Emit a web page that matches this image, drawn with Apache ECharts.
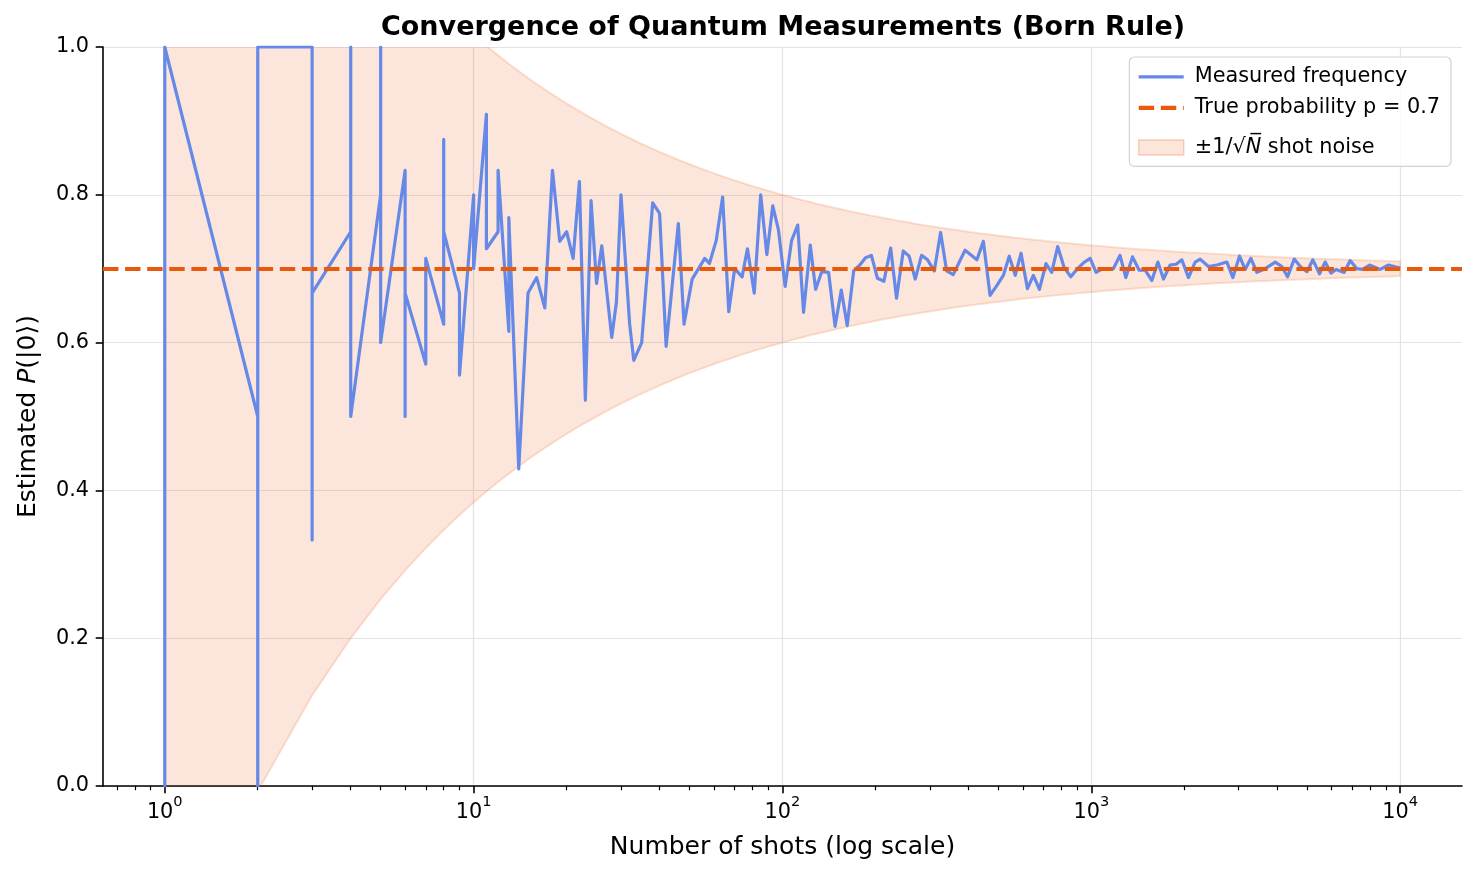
<!DOCTYPE html>
<html><head><meta charset="utf-8">
<script src="https://cdn.jsdelivr.net/npm/echarts@6/dist/echarts.min.js"></script>
<style>html,body{margin:0;padding:0;background:#fff}#c{width:1476px;height:873px}</style>
</head><body><div id="c"></div><script>
// ---- data ----
const shots = [
  1,1,1, 2,2,2, 3,3,3, 4,4,4, 5,5,5, 6,6,6, 7,7, 8,8,8, 9,9, 10,10, 11,11, 12,12, 13,13,
  14,15,16,17,18,19,20,21,22,23,24,25,26,28,29,30,
  32,33,35,38,40,42,46,48,51,56,58,61,64,67,70,74,77,81,85,89,93,97,102,107,112,
  117,123,128,134,141,148,155,162,170,178,186,194,203,213,224,234,246,257,269,282,295,310,325,340,357,
  390,426,447,470,494,519,542,567,592,621,649,679,713,744,778,816,858,897,943,991,
  1036,1088,1178,1238,1293,1359,1428,1494,1570,1642,1712,1799,1882,1963,2063,2168,2250,2394,2549,2746,
  2872,3017,3148,3285,3435,3655,3937,4137,4316,4537,4746,4988,5215,5480,5715,5965,6203,6586,6886,7238,7570,7955,8610,9167,10000
];
const freq = [
  1,0,1, 0.5,0,1, 1,0.333,0.667, 0.75,1,0.5, 0.8,1,0.6, 0.833,0.5,0.667, 0.571,0.714, 0.625,0.875,0.75, 0.667,0.556, 0.8,0.7, 0.909,0.727, 0.75,0.833, 0.615,0.769,
  0.429,0.667,0.688,0.647,0.833,0.737,0.75,0.714,0.818,0.522,0.792,0.68,0.731,0.607,0.655,0.8,
  0.625,0.576,0.6,0.789,0.775,0.595,0.761,0.625,0.686,0.714,0.707,0.738,0.797,0.642,0.7,0.689,0.727,0.667,0.8,0.719,0.785,0.753,0.676,0.738,0.759,
  0.641,0.732,0.672,0.696,0.695,0.622,0.671,0.623,0.697,0.705,0.715,0.718,0.687,0.683,0.728,0.66,0.724,0.717,0.686,0.718,0.712,0.697,0.749,0.697,0.692,
  0.725,0.712,0.737,0.664,0.677,0.691,0.717,0.691,0.721,0.673,0.691,0.672,0.707,0.695,0.730,0.702,0.689,0.699,0.708,0.714,
  0.695,0.700,0.700,0.718,0.688,0.716,0.698,0.698,0.684,0.709,0.686,0.705,0.706,0.712,0.688,0.709,0.713,0.703,0.705,0.709,
  0.688,0.717,0.699,0.714,0.695,0.700,0.709,0.703,0.689,0.713,0.703,0.696,0.712,0.693,0.709,0.694,0.699,0.695,0.711,0.700,0.699,0.705,0.699,0.705,0.701
];
const P_TRUE = 0.7;
const xMajorTicks = [1, 10, 100, 1000, 10000];
const yTickInterval = 0.2;
const seriesNames = ['Measured frequency', 'True probability p = 0.7', '±1/√N shot noise'];

// ---- styling ----
const FONT = 'DejaVu Sans';
const BLUE = '#6689E8';
const ORANGE = '#E8590C';
const FILL = 'rgba(232,89,12,0.15)';
const EDGE = 'rgba(232,89,12,0.17)';
const GRIDC = '#e3e3e3';
const X_MIN = 0.631, X_MAX = 15849;

// ---- derived ----
const measured = shots.map((n, i) => [n, freq[i]]);
const bandShots = Array.from(new Set(shots)).sort((a, b) => a - b);
const bandUpper = bandShots.map(n => [n, P_TRUE + 1 / Math.sqrt(n)]);
const bandLower = bandShots.map(n => [n, P_TRUE - 1 / Math.sqrt(n)]);
const minorTicks = [];
for (let k = -1; k <= 4; k++) for (let m = 2; m <= 9; m++) {
  const v = m * Math.pow(10, k);
  if (v >= X_MIN && v <= X_MAX) minorTicks.push(v);
}

const chart = echarts.init(document.getElementById('c'), null, {renderer: 'canvas'});
chart.setOption({
  animation: false,
  backgroundColor: '#fff',
  textStyle: {fontFamily: FONT, color: '#000'},
  title: {
    text: 'Convergence of Quantum Measurements (Born Rule)',
    left: 778, top: 9, textAlign: 'center',
    textStyle: {fontFamily: FONT, fontSize: 27, fontWeight: 'bold', color: '#000'}
  },
  grid: {left: 103, right: 14, top: 47, bottom: 87, containLabel: false},
  legend: {
    orient: 'vertical', right: 25, top: 57,
    padding: [9.4, 11, 0, 7.3],
    itemWidth: 45, itemHeight: 15, itemGap: 10,
    backgroundColor: 'rgba(255,255,255,0.8)',
    borderColor: '#d3d3d3', borderWidth: 1.2, borderRadius: 5,
    textStyle: {fontFamily: FONT, fontSize: 20.8, color: '#000', padding: [0, 0, 0, 6],
      rich: {i: {fontFamily: FONT, fontSize: 20.8, fontStyle: 'italic'}}},
    formatter: name => name === seriesNames[2] ? '±1/√{i|N\u0305} shot noise' : name,
    data: [
      {name: seriesNames[0], itemStyle: {opacity: 0}, lineStyle: {width: 3.2, color: BLUE}},
      {name: seriesNames[1], itemStyle: {opacity: 0}, lineStyle: {width: 4.2, color: ORANGE, type: [15.4, 6.7]}},
      {name: seriesNames[2], icon: 'rect', itemStyle: {color: FILL, borderColor: 'rgba(232,89,12,0.25)', borderWidth: 1.5},
        textStyle: {lineHeight: 38}}
    ]
  },
  xAxis: [{
    type: 'log', logBase: 10, min: X_MIN, max: X_MAX,
    name: 'Number of shots (log scale)', nameLocation: 'middle', nameGap: 49,
    nameTextStyle: {fontFamily: FONT, fontSize: 25, color: '#000'},
    axisLine: {show: true, lineStyle: {color: '#000', width: 1.6}},
    axisTick: {show: true, length: 7.3, customValues: xMajorTicks, lineStyle: {color: '#000', width: 1.6}},
    axisLabel: {
      customValues: xMajorTicks, margin: 9,
      formatter: v => '{b|10}{s|' + Math.round(Math.log10(v)) + '}',
      rich: {
        b: {fontFamily: FONT, fontSize: 20.8, color: '#000', lineHeight: 28, verticalAlign: 'bottom'},
        s: {fontFamily: FONT, fontSize: 14.6, color: '#000', lineHeight: 16, verticalAlign: 'top'}
      }
    },
    splitLine: {show: true, lineStyle: {color: GRIDC, width: 1.2}}
  }, {
    type: 'log', logBase: 10, min: X_MIN, max: X_MAX, position: 'bottom',
    axisLine: {show: false},
    axisTick: {show: true, length: 4.2, customValues: minorTicks, lineStyle: {color: '#000', width: 1.2}},
    axisLabel: {show: false},
    splitLine: {show: false}
  }],
  yAxis: {
    type: 'value', min: 0, max: 1, interval: yTickInterval,
    name: 'Estimated {i|P}(|0⟩)', nameLocation: 'middle', nameGap: 62,
    nameTextStyle: {fontFamily: FONT, fontSize: 25, color: '#000',
      rich: {i: {fontFamily: FONT, fontSize: 25, fontStyle: 'italic', color: '#000'}}},
    axisLine: {show: true, lineStyle: {color: '#000', width: 1.6}},
    axisTick: {show: true, length: 7.3, lineStyle: {color: '#000', width: 1.6}},
    axisLabel: {margin: 14, fontFamily: FONT, fontSize: 20.8, color: '#000', formatter: v => v.toFixed(1)},
    splitLine: {show: true, lineStyle: {color: GRIDC, width: 1.2}}
  },
  series: [
    {
      name: seriesNames[2], type: 'custom', clip: true, silent: true, z: 1,
      data: [[1, P_TRUE]],
      encode: {x: 0, y: 1},
      itemStyle: {color: FILL},
      renderItem: (params, api) => {
        const up = bandUpper.map(p => api.coord(p));
        const lo = bandLower.slice().reverse().map(p => api.coord(p));
        return {
          type: 'polygon',
          shape: {points: up.concat(lo)},
          style: {fill: FILL, stroke: EDGE, lineWidth: 2}
        };
      }
    },
    {
      name: seriesNames[0], type: 'line', data: measured, symbol: 'none', z: 3,
      lineStyle: {color: BLUE, width: 3.2, join: 'round'}
    },
    {
      name: seriesNames[1], type: 'line', data: [], symbol: 'none', z: 4,
      lineStyle: {color: ORANGE, width: 4.2, type: [15.4, 6.7]},
      markLine: {
        silent: true, symbol: 'none', label: {show: false}, z: 6,
        lineStyle: {color: ORANGE, width: 4.2, type: [15.4, 6.7]},
        data: [{yAxis: P_TRUE}]
      }
    }
  ]
});
</script></body></html>
